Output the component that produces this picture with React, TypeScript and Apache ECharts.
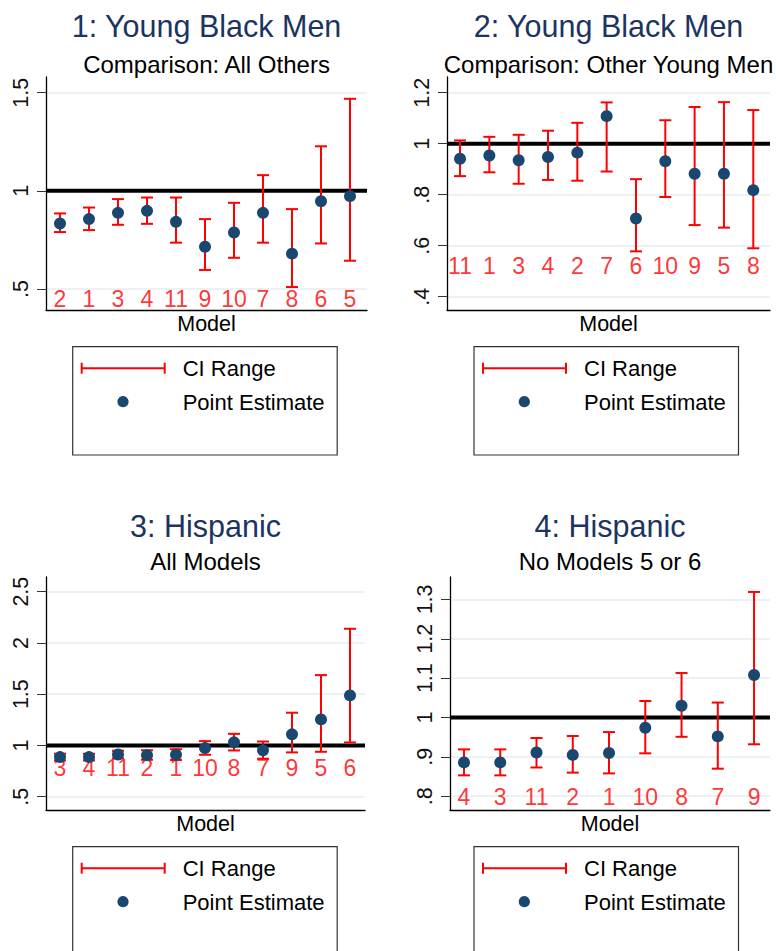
import React, { useEffect, useRef } from 'react';
import * as echarts from 'echarts';

// ---------- data ----------
const p1Models = ['2', '1', '3', '4', '11', '9', '10', '7', '8', '6', '5'];
const p1Est = [0.834, 0.856, 0.888, 0.898, 0.842, 0.715, 0.788, 0.888, 0.68, 0.947, 0.973];
const p1Lo = [0.79, 0.8, 0.827, 0.832, 0.736, 0.597, 0.659, 0.736, 0.51, 0.732, 0.644];
const p1Hi = [0.885, 0.915, 0.958, 0.966, 0.966, 0.856, 0.939, 1.08, 0.907, 1.227, 1.469];
const p1Ticks = [0.5, 1, 1.5];

const p2Models = ['11', '1', '3', '4', '2', '7', '6', '10', '9', '5', '8'];
const p2Est = [0.941, 0.954, 0.935, 0.948, 0.965, 1.108, 0.707, 0.931, 0.882, 0.882, 0.818];
const p2Lo = [0.873, 0.888, 0.843, 0.858, 0.855, 0.891, 0.578, 0.791, 0.681, 0.671, 0.59];
const p2Hi = [1.013, 1.027, 1.035, 1.051, 1.082, 1.162, 0.861, 1.092, 1.144, 1.163, 1.132];
const p2Ticks = [0.4, 0.6, 0.8, 1, 1.2];

const p3Models = ['3', '4', '11', '2', '1', '10', '8', '7', '9', '5', '6'];
const p3Est = [0.886, 0.886, 0.911, 0.905, 0.91, 0.974, 1.03, 0.952, 1.108, 1.254, 1.488];
const p3Lo = [0.853, 0.853, 0.873, 0.86, 0.858, 0.909, 0.951, 0.87, 0.932, 0.938, 1.029];
const p3Hi = [0.919, 0.919, 0.948, 0.953, 0.963, 1.042, 1.113, 1.038, 1.319, 1.686, 2.138];
const p3Ticks = [0.5, 1, 1.5, 2, 2.5];

const p4Models = ['4', '3', '11', '2', '1', '10', '8', '7', '9'];
const p4Est = [0.886, 0.886, 0.911, 0.905, 0.91, 0.974, 1.03, 0.952, 1.108];
const p4Lo = [0.853, 0.853, 0.873, 0.86, 0.858, 0.909, 0.951, 0.87, 0.932];
const p4Hi = [0.919, 0.919, 0.948, 0.953, 0.963, 1.042, 1.113, 1.038, 1.319];
const p4Ticks = [0.8, 0.9, 1, 1.1, 1.2, 1.3];

const titles = ['1: Young Black Men', '2: Young Black Men', '3: Hispanic', '4: Hispanic'];
const subtitles = ['Comparison: All Others', 'Comparison: Other Young Men', 'All Models', 'No Models 5 or 6'];
const refValue = 1;

// ---------- layout / style ----------
const FONT = '"Liberation Sans", Arial, Helvetica, sans-serif';
const RED = '#ff0000';
const NAVY = '#1a476f';
const TITLE_COLOR = '#1c3461';

const layouts = [
  { grid: { left: 46, top: 77, width: 321, height: 233 }, yMin: 0.393, yMax: 1.58, xMin: 0.517, xMax: 11.586, labelY: 0.4475, cx: 206.5, titleY: 26, subY: 64.5, legend: { x: 72.7, y: 346.7 } },
  { grid: { left: 447, top: 77, width: 323, height: 233 }, yMin: 0.348, yMax: 1.2616, xMin: 0.556, xMax: 11.57, labelY: 0.52, cx: 608.5, titleY: 26, subY: 64.5, legend: { x: 474, y: 346.7 } },
  { grid: { left: 46, top: 577, width: 319, height: 233 }, yMin: 0.37, yMax: 2.643, xMin: 0.517, xMax: 11.517, labelY: 0.782, cx: 205.5, titleY: 525.5, subY: 561, legend: { x: 72.7, y: 846.7 } },
  { grid: { left: 450, top: 577, width: 320, height: 233 }, yMin: 0.765, yMax: 1.357, xMin: 0.614, xMax: 9.44, labelY: 0.797, cx: 610, titleY: 525.5, subY: 561, legend: { x: 474, y: 846.7 } },
];

const panelData = [
  { models: p1Models, est: p1Est, lo: p1Lo, hi: p1Hi, ticks: p1Ticks },
  { models: p2Models, est: p2Est, lo: p2Lo, hi: p2Hi, ticks: p2Ticks },
  { models: p3Models, est: p3Est, lo: p3Lo, hi: p3Hi, ticks: p3Ticks },
  { models: p4Models, est: p4Est, lo: p4Lo, hi: p4Hi, ticks: p4Ticks },
];

const fmtTick = (v: number) => {
  const s = String(Math.round(v * 100) / 100);
  return s.startsWith('0.') ? s.slice(1) : s;
};

function buildOption() {
  const grid: any[] = [];
  const xAxis: any[] = [];
  const yAxis: any[] = [];
  const series: any[] = [];
  const graphic: any[] = [];

  panelData.forEach((d, i) => {
    const L = layouts[i];
    grid.push({ ...L.grid, containLabel: false });
    xAxis.push({
      type: 'value',
      gridIndex: i,
      min: L.xMin,
      max: L.xMax,
      axisLine: { show: true, onZero: false, lineStyle: { color: '#000', width: 1.3 } },
      axisTick: { show: false },
      axisLabel: { show: false },
      splitLine: { show: false },
      name: 'Model',
      nameLocation: 'middle',
      nameGap: 3,
      nameTextStyle: { fontSize: 21.5, color: '#000', fontFamily: FONT, verticalAlign: 'top' },
    });
    yAxis.push({
      type: 'value',
      gridIndex: i,
      min: L.yMin,
      max: L.yMax,
      axisLine: { show: true, onZero: false, lineStyle: { color: '#000', width: 1.3 } },
      axisTick: { show: true, length: 9, customValues: d.ticks, lineStyle: { color: '#333', width: 1 } },
      axisLabel: {
        customValues: d.ticks,
        rotate: 90,
        margin: 14,
        fontSize: 21.5,
        color: '#111',
        fontFamily: FONT,
        formatter: (v: number) => fmtTick(v),
      },
      splitLine: { show: true, lineStyle: { color: '#e6eef1', width: 1.5 } },
    });

    series.push({
      type: 'line',
      xAxisIndex: i,
      yAxisIndex: i,
      data: [[L.xMin, refValue], [L.xMax, refValue]],
      symbol: 'none',
      lineStyle: { color: '#000', width: 4 },
      silent: true,
      z: 1,
    });
    series.push({
      type: 'scatter',
      xAxisIndex: i,
      yAxisIndex: i,
      data: d.models.map((m, k) => ({ name: m, value: [k + 1, L.labelY] })),
      symbolSize: 1,
      itemStyle: { color: 'rgba(0,0,0,0)' },
      label: { show: true, position: 'inside', formatter: '{b}', color: RED, fontSize: 23, fontFamily: FONT },
      silent: true,
      z: 2,
    });
    series.push({
      type: 'custom',
      xAxisIndex: i,
      yAxisIndex: i,
      data: d.models.map((_, k) => [k + 1, d.lo[k], d.hi[k]]),
      encode: { x: 0, y: [1, 2] },
      renderItem: (params: any, api: any) => {
        const x = api.value(0);
        const pLo = api.coord([x, api.value(1)]);
        const pHi = api.coord([x, api.value(2)]);
        const w = 6;
        const st = { stroke: RED, lineWidth: 2 };
        return {
          type: 'group',
          children: [
            { type: 'line', shape: { x1: pLo[0], y1: pLo[1], x2: pHi[0], y2: pHi[1] }, style: st },
            { type: 'line', shape: { x1: pLo[0] - w, y1: pLo[1], x2: pLo[0] + w, y2: pLo[1] }, style: st },
            { type: 'line', shape: { x1: pHi[0] - w, y1: pHi[1], x2: pHi[0] + w, y2: pHi[1] }, style: st },
          ],
        };
      },
      silent: true,
      z: 3,
    });
    series.push({
      type: 'scatter',
      xAxisIndex: i,
      yAxisIndex: i,
      data: d.est.map((v, k) => [k + 1, v]),
      symbolSize: 12,
      itemStyle: { color: NAVY, opacity: 1 },
      silent: true,
      z: 4,
    });

    // titles
    graphic.push({
      type: 'text',
      x: L.cx,
      y: L.titleY,
      style: {
        text: titles[i], fill: TITLE_COLOR, font: `30.5px ${FONT}`,
        textAlign: 'center', align: 'center', textVerticalAlign: 'middle', verticalAlign: 'middle',
      },
    });
    graphic.push({
      type: 'text',
      x: L.cx,
      y: L.subY,
      style: {
        text: subtitles[i], fill: '#000', font: `24px ${FONT}`,
        textAlign: 'center', align: 'center', textVerticalAlign: 'middle', verticalAlign: 'middle',
      },
    });

    // legend
    const lx = L.legend.x;
    const ly = L.legend.y;
    const cs = { stroke: RED, lineWidth: 2 };
    graphic.push({
      type: 'group',
      children: [
        { type: 'rect', shape: { x: lx, y: ly, width: 264.5, height: 108.3 }, style: { fill: 'none', stroke: '#333', lineWidth: 1.2 } },
        { type: 'line', shape: { x1: lx + 9, y1: ly + 21.5, x2: lx + 92, y2: ly + 21.5 }, style: cs },
        { type: 'line', shape: { x1: lx + 9, y1: ly + 16, x2: lx + 9, y2: ly + 27 }, style: cs },
        { type: 'line', shape: { x1: lx + 92, y1: ly + 16, x2: lx + 92, y2: ly + 27 }, style: cs },
        {
          type: 'text', x: lx + 110, y: ly + 22,
          style: { text: 'CI Range', fill: '#000', font: `22px ${FONT}`, textVerticalAlign: 'middle', verticalAlign: 'middle' },
        },
        { type: 'circle', shape: { cx: lx + 50.3, cy: ly + 55, r: 5.6 }, style: { fill: NAVY } },
        {
          type: 'text', x: lx + 110, y: ly + 56,
          style: { text: 'Point Estimate', fill: '#000', font: `22px ${FONT}`, textVerticalAlign: 'middle', verticalAlign: 'middle' },
        },
      ],
    });
  });

  return {
    animation: false,
    backgroundColor: '#fff',
    textStyle: { fontFamily: FONT },
    grid,
    xAxis,
    yAxis,
    series,
    graphic,
  };
}

export default function App() {
  const ref = useRef<HTMLDivElement>(null);
  useEffect(() => {
    if (!ref.current) return;
    const chart = echarts.init(ref.current, undefined, { renderer: 'svg' });
    chart.setOption(buildOption() as any);
    return () => chart.dispose();
  }, []);
  return (
    <div
      ref={ref}
      style={{ position: 'absolute', left: 0, top: 0, width: 776, height: 951, background: '#fff' }}
    />
  );
}
